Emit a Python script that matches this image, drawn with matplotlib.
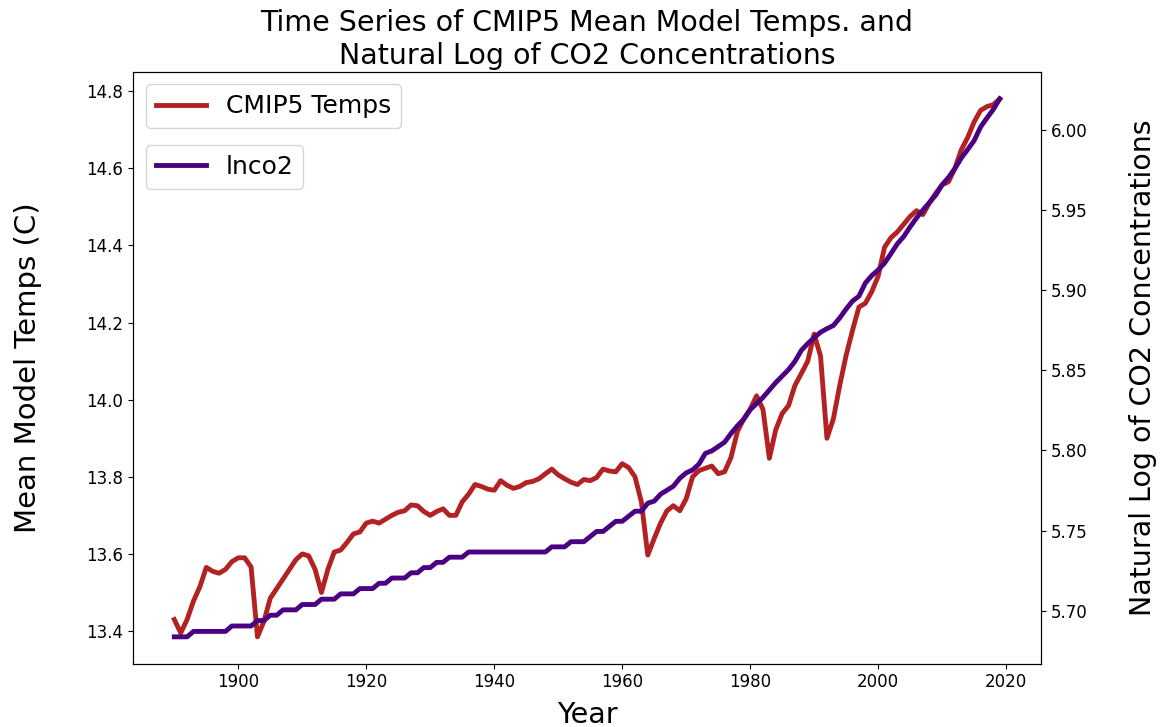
import numpy as np
import matplotlib
matplotlib.use("Agg")
import matplotlib.pyplot as plt

# Jahre 1890-2019
years = np.arange(1890, 2020)

# CMIP5 mittlere Modelltemperatur (C)
temps = [
    13.43, 13.395, 13.43, 13.478, 13.515, 13.565, 13.555, 13.55, 13.56, 13.58,
    13.59, 13.59, 13.566, 13.385, 13.425, 13.485, 13.51, 13.535, 13.56, 13.585,
    13.60, 13.595, 13.56, 13.50, 13.56, 13.605, 13.61, 13.63, 13.652, 13.657,
    13.68, 13.685, 13.68, 13.69, 13.70, 13.708, 13.712, 13.727, 13.725, 13.71,
    13.70, 13.71, 13.717, 13.70, 13.70, 13.735, 13.755, 13.78, 13.775, 13.768,
    13.765, 13.79, 13.778, 13.77, 13.775, 13.785, 13.788, 13.795, 13.808, 13.82,
    13.805, 13.795, 13.786, 13.78, 13.793, 13.79, 13.798, 13.82, 13.815, 13.813,
    13.834, 13.824, 13.80, 13.735, 13.597, 13.64, 13.68, 13.712, 13.725, 13.712,
    13.743, 13.80, 13.816, 13.822, 13.828, 13.808, 13.813, 13.85, 13.917, 13.95,
    13.975, 14.01, 13.975, 13.848, 13.922, 13.964, 13.985, 14.037, 14.068, 14.10,
    14.17, 14.113, 13.90, 13.95, 14.037, 14.115, 14.18, 14.24, 14.25, 14.28,
    14.32, 14.395, 14.42, 14.435, 14.455, 14.475, 14.49, 14.48, 14.51, 14.535,
    14.557, 14.565, 14.60, 14.648, 14.68, 14.72, 14.75, 14.76, 14.765, 14.78,
]

co2_ppm = (
    [294] * 3 + [295] * 6 + [296] * 4 + [297] * 2 + [298] * 2 + [299] * 3
    + [300] * 3 + [301] * 3 + [302] * 3 + [303] * 3 + [304] * 2 + [305] * 3
    + [306] * 2 + [307] * 2 + [308] * 2 + [309] * 3 + [310] * 13 + [311] * 3
    + [312] * 3 + [313] + [314] * 2 + [315] + [316] * 2 + [317] + [318] * 2
    + [319.6, 320.0, 321.4, 322.2, 323.0, 324.6, 325.7, 326.3, 327.5, 329.7,
       330.2, 331.1, 332.0, 333.8, 335.4, 336.8, 338.8, 340.1, 341.4, 343.0,
       344.6, 346.0, 347.4, 349.2, 351.6, 353.1, 354.4, 355.6, 356.4, 357.1,
       358.8, 360.8, 362.6, 363.7, 366.7, 368.4, 369.7, 371.3, 373.5, 375.8,
       377.5, 379.8, 381.9, 383.8, 385.6, 387.4, 389.9, 391.7, 393.9, 396.5,
       398.6, 400.8, 404.2, 406.5, 408.7, 411.4]
)
lnco2 = np.log(co2_ppm)

fig, ax = plt.subplots(figsize=(11.67, 7.27), dpi=100)
fig.subplots_adjust(left=0.114, right=0.892, top=0.901, bottom=0.087)

ax.plot(years, temps, color="firebrick", lw=3.5, label="CMIP5 Temps")
ax.set_xlabel("Year", fontsize=20.5, labelpad=7)
ax.set_ylabel("Mean Model Temps (C)", fontsize=21, labelpad=32)
ax.tick_params(labelsize=12)

ax2 = ax.twinx()
ax2.plot(years, lnco2, color="indigo", lw=3.5, label="lnco2")
ax2.set_ylabel("Natural Log of CO2 Concentrations", fontsize=20.5, labelpad=30)
ax2.tick_params(labelsize=12)

ax.legend(loc="upper left", fontsize=18)
ax2.legend(loc="upper left", bbox_to_anchor=(0, 0.898), fontsize=18)

ax.set_title("Time Series of CMIP5 Mean Model Temps. and\nNatural Log of CO2 Concentrations",
             fontsize=20.5, pad=6)

fig.savefig("out.png")
